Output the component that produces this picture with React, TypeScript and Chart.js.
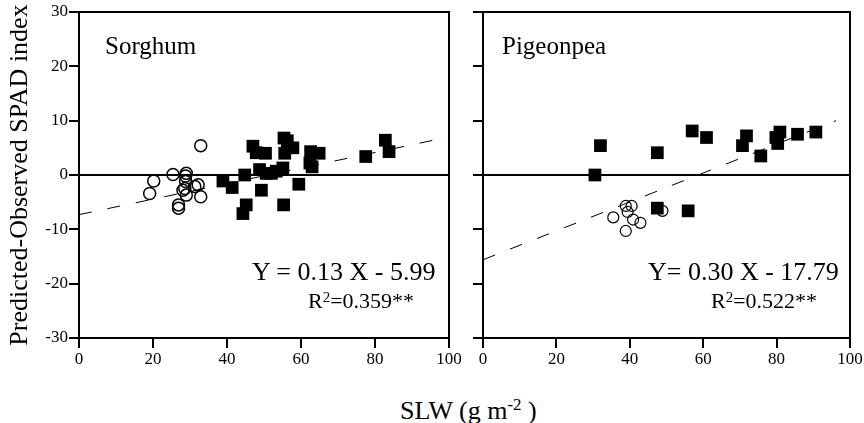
import React, { useEffect, useRef } from "react";
import { Chart, registerables } from "chart.js";

Chart.register(...registerables);

// ---- Data ----
const sorghumOpenX = [32.9, 20.2, 19.1, 25.4, 29.0, 28.8, 28.8, 28.6, 29.0, 31.3, 32.2, 32.9, 26.9, 26.9, 28.1];
const sorghumOpenY = [5.4, -1.1, -3.4, 0.1, 0.3, -0.2, -1.2, -2.5, -3.7, -2.1, -1.8, -4.0, -5.5, -6.1, -2.8];
const sorghumFilledX = [38.9, 41.4, 44.8, 45.2, 44.3, 47.0, 47.9, 50.4, 48.8, 49.3, 50.6, 52.0, 53.3, 55.1, 55.4, 56.3, 55.6, 57.8, 55.3, 59.4, 62.6, 62.4, 63.0, 64.9, 77.5, 82.8, 83.8];
const sorghumFilledY = [-1.1, -2.3, 0.0, -5.5, -7.1, 5.3, 4.1, 4.0, 1.0, -2.8, 0.3, 0.3, 0.7, 1.3, 6.8, 6.3, 4.0, 5.0, -5.5, -1.7, 4.3, 2.2, 1.5, 4.0, 3.4, 6.4, 4.3];
const sorghumFitX = [0, 100];
const sorghumFitY = [-7.3, 7.0];

const pigeonOpenX = [35.5, 38.9, 40.5, 39.4, 40.9, 42.9, 38.9, 48.9];
const pigeonOpenY = [-7.8, -5.7, -5.7, -6.8, -8.2, -8.8, -10.3, -6.6];
const pigeonFilledX = [32.0, 30.5, 47.5, 57.0, 60.9, 70.7, 71.8, 75.7, 79.8, 80.9, 80.3, 85.7, 90.7, 47.5, 55.9];
const pigeonFilledY = [5.4, 0.0, 4.1, 8.1, 6.9, 5.4, 7.2, 3.5, 6.9, 7.9, 5.8, 7.5, 7.9, -6.1, -6.6];
const pigeonFitX = [0, 96.2];
const pigeonFitY = [-15.6, 10.0];

const zeroLineX = [0, 100];
const zeroLineY = [0, 0];

const xTicks = [0, 20, 40, 60, 80, 100];
const yTicks = [-30, -20, -10, 0, 10, 20, 30];

const FONT = "'Liberation Serif', 'DejaVu Serif', serif";

const zip = (xs: number[], ys: number[]) => xs.map((x, i) => ({ x, y: ys[i] }));

const boxPlugin = {
  id: "boxPlugin",
  afterDraw(chart: any) {
    const { ctx, chartArea } = chart;
    ctx.save();
    ctx.strokeStyle = "#000";
    ctx.lineWidth = 2;
    ctx.strokeRect(chartArea.left, chartArea.top, chartArea.right - chartArea.left, chartArea.bottom - chartArea.top);
    ctx.restore();
  },
};

function makeConfig(
  openX: number[], openY: number[], filledX: number[], filledY: number[],
  fitX: number[], fitY: number[], showYLabels: boolean, yWidth: number,
  padRight: number, openR: number, openW: number
): any {
  return {
    type: "scatter",
    data: {
      datasets: [
        {
          data: zip(zeroLineX, zeroLineY),
          showLine: true,
          borderColor: "#000",
          borderWidth: 2,
          pointRadius: 0,
          order: 3,
        },
        {
          data: zip(fitX, fitY),
          showLine: true,
          borderColor: "#000",
          borderWidth: 1,
          borderDash: [13, 16],
          pointRadius: 0,
          order: 4,
        },
        {
          data: zip(openX, openY),
          pointStyle: "circle",
          pointRadius: openR,
          pointBorderWidth: openW,
          pointBorderColor: "#000",
          pointBackgroundColor: "rgba(255,255,255,0)",
          order: 2,
        },
        {
          data: zip(filledX, filledY),
          pointStyle: "rect",
          pointRadius: 9,
          pointBorderWidth: 0,
          pointBorderColor: "#000",
          pointBackgroundColor: "#000",
          order: 1,
        },
      ],
    },
    options: {
      responsive: false,
      animation: false,
      events: [],
      layout: { padding: { top: 12, right: padRight, left: 0, bottom: 0 } },
      plugins: { legend: { display: false }, tooltip: { enabled: false } },
      scales: {
        x: {
          type: "linear",
          min: 0,
          max: 100,
          afterBuildTicks: (s: any) => { s.ticks = xTicks.map((v) => ({ value: v })); },
          afterFit: (s: any) => { s.height = 52; },
          border: { display: false },
          grid: { drawOnChartArea: false, drawTicks: true, tickLength: 10, color: "#000", lineWidth: 2 },
          ticks: { color: "#000", padding: 1, font: { family: FONT, size: 17 }, maxRotation: 0 },
        },
        y: {
          type: "linear",
          min: -30,
          max: 30,
          afterBuildTicks: (s: any) => { s.ticks = yTicks.map((v) => ({ value: v })); },
          afterFit: (s: any) => { s.width = yWidth; },
          border: { display: false },
          grid: { drawOnChartArea: false, drawTicks: true, tickLength: 10, color: "#000", lineWidth: 2 },
          ticks: {
            color: "#000",
            padding: 1,
            font: { family: FONT, size: 17 },
            callback: (v: any) => (showYLabels ? String(v) : ""),
          },
        },
      },
    },
    plugins: [boxPlugin],
  };
}

export default function App() {
  const leftRef = useRef<HTMLCanvasElement>(null);
  const rightRef = useRef<HTMLCanvasElement>(null);

  useEffect(() => {
    const c1 = new Chart(
      leftRef.current!,
      makeConfig(sorghumOpenX, sorghumOpenY, sorghumFilledX, sorghumFilledY, sorghumFitX, sorghumFitY, true, 79, 21, 6, 1.5)
    );
    const c2 = new Chart(
      rightRef.current!,
      makeConfig(pigeonOpenX, pigeonOpenY, pigeonFilledX, pigeonFilledY, pigeonFitX, pigeonFitY, false, 17, 14, 5.5, 1.2)
    );
    return () => {
      c1.destroy();
      c2.destroy();
    };
  }, []);

  const txt: React.CSSProperties = { position: "absolute", fontFamily: FONT, color: "#000", whiteSpace: "nowrap", lineHeight: 1 };

  return (
    <div style={{ position: "absolute", left: 0, top: 0, width: 864, height: 423, background: "#fff", overflow: "hidden" }}>
      <canvas ref={leftRef} width={470} height={390} style={{ position: "absolute", left: 0, top: 0 }} />
      <canvas ref={rightRef} width={398} height={390} style={{ position: "absolute", left: 466, top: 0 }} />

      <div
        style={{
          ...txt,
          left: 19 - 190,
          top: 175 - 14,
          width: 380,
          height: 28,
          lineHeight: "28px",
          textAlign: "center",
          fontSize: 26,
          transform: "rotate(-90deg)",
        }}
      >
        Predicted-Observed SPAD index
      </div>

      <div style={{ ...txt, left: 400, top: 396, fontSize: 26 }}>
        SLW (g m<sup style={{ fontSize: 17, verticalAlign: "9px", lineHeight: 1 }}>-2</sup> )
      </div>

      <div style={{ ...txt, left: 105, top: 33, fontSize: 25 }}>Sorghum</div>
      <div style={{ ...txt, left: 502, top: 33, fontSize: 25 }}>Pigeonpea</div>

      <div style={{ ...txt, left: 252, top: 259, fontSize: 26 }}>Y = 0.13 X - 5.99</div>
      <div style={{ ...txt, left: 308, top: 290, fontSize: 22 }}>
        R<sup style={{ fontSize: 15, verticalAlign: "6px", lineHeight: 1 }}>2</sup>=0.359**
      </div>

      <div style={{ ...txt, left: 648, top: 259, fontSize: 26 }}>Y= 0.30 X - 17.79</div>
      <div style={{ ...txt, left: 711, top: 290, fontSize: 22 }}>
        R<sup style={{ fontSize: 15, verticalAlign: "6px", lineHeight: 1 }}>2</sup>=0.522**
      </div>
    </div>
  );
}
